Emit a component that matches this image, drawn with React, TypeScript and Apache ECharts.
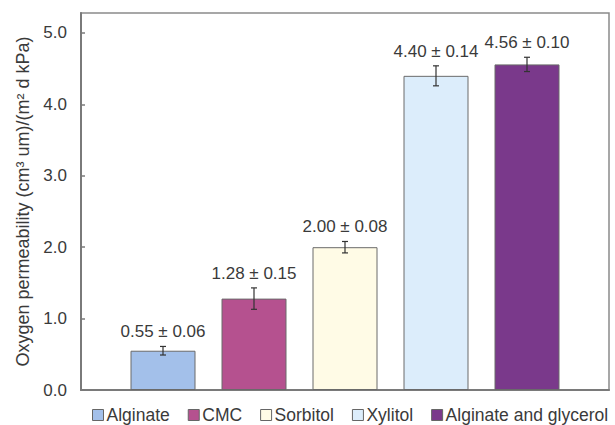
import React, { useEffect, useRef } from "react";
import * as echarts from "echarts";

const seriesNames = ["Alginate", "CMC", "Sorbitol", "Xylitol", "Alginate and glycerol"];
const values = [0.55, 1.28, 2.0, 4.4, 4.56];
const errors = [0.06, 0.15, 0.08, 0.14, 0.1];
const colors = ["#a3c0ea", "#b5518f", "#fffbe6", "#dcedfb", "#7a398b"];
const yTickValues = [0, 1, 2, 3, 4, 5];

const BAR_W = 65;
const GAP = 0.4;
const FONT = "'Liberation Sans', Arial, Helvetica, sans-serif";
const TXT = "#3a3a3a";

export default function App() {
  const ref = useRef<HTMLDivElement>(null);
  useEffect(() => {
    if (!ref.current) return;
    const chart = echarts.init(ref.current, null, { renderer: "svg" });
    const n = values.length;
    const barSeries = seriesNames.map((name, i) => ({
      name,
      type: "bar",
      data: [values[i]],
      barWidth: BAR_W,
      barGap: GAP * 100 + "%",
      itemStyle: { color: colors[i], borderColor: "#6a6a6a", borderWidth: 1 },
      z: 2,
    }));
    const errData = values.map((v, i) => [0, v, errors[i], i]);
    chart.setOption({
      animation: false,
      textStyle: { fontFamily: FONT },
      grid: {
        left: 81,
        right: 6,
        top: 13,
        bottom: 35,
        show: true,
        borderColor: "#8a8a8a",
        borderWidth: 1.5,
        containLabel: false,
      },
      legend: {
        data: seriesNames,
        left: 87,
        top: 401,
        itemWidth: 11,
        itemHeight: 11,
        itemGap: 18,
        icon: "rect",
        textStyle: { fontFamily: FONT, fontSize: 17.5, color: TXT, padding: [0, 0, 0, -2] },
        itemStyle: { borderColor: "#666", borderWidth: 1 },
      },
      xAxis: {
        type: "category",
        data: [""],
        axisLine: { lineStyle: { color: "#7a7a7a", width: 2 } },
        axisTick: { show: false },
        axisLabel: { show: false },
      },
      yAxis: {
        type: "value",
        min: yTickValues[0],
        max: 5.28,
        interval: 1,
        name: "Oxygen permeability (cm³ um)/(m² d kPa)",
        nameLocation: "middle",
        nameGap: 47,
        nameTextStyle: { fontFamily: FONT, fontSize: 18, color: TXT },
        axisLine: { show: true, lineStyle: { color: "#7a7a7a", width: 2 } },
        axisTick: { show: true, inside: true, length: 4, lineStyle: { color: "#7a7a7a", width: 1.5 } },
        axisLabel: {
          fontFamily: FONT,
          fontSize: 17,
          color: TXT,
          margin: 14,
          showMaxLabel: false,
          formatter: (v: number) => (yTickValues.includes(v) ? v.toFixed(1) : ""),
        },
        splitLine: { show: false },
      },
      series: [
        ...barSeries,
        {
          name: "errors",
          type: "custom",
          data: errData,
          encode: { x: 0, y: 1 },
          z: 5,
          renderItem: (params: any, api: any) => {
            const v = api.value(1);
            const e = api.value(2);
            const i = api.value(3);
            const off = (i - (n - 1) / 2) * BAR_W * (1 + GAP);
            const top = api.coord([0, v + e]);
            const bot = api.coord([0, v - e]);
            const x = top[0] + off;
            const cap = 3;
            const ls = { stroke: "#333", lineWidth: 1.2 };
            return {
              type: "group",
              children: [
                { type: "line", shape: { x1: x, y1: top[1], x2: x, y2: bot[1] }, style: ls },
                { type: "line", shape: { x1: x - cap, y1: top[1], x2: x + cap, y2: top[1] }, style: ls },
                { type: "line", shape: { x1: x - cap, y1: bot[1], x2: x + cap, y2: bot[1] }, style: ls },
                {
                  type: "text",
                  x: x,
                  y: top[1] - 6,
                  style: {
                    text: `${v.toFixed(2)} ± ${e.toFixed(2)}`,
                    fontFamily: FONT,
                    fontSize: 17,
                    fill: TXT,
                    align: "center",
                    verticalAlign: "bottom",
                  },
                },
              ],
            };
          },
        },
      ],
    });
    return () => chart.dispose();
  }, []);
  return (
    <div
      ref={ref}
      style={{ position: "fixed", left: 0, top: 0, width: 615, height: 425, background: "#fff" }}
    />
  );
}
